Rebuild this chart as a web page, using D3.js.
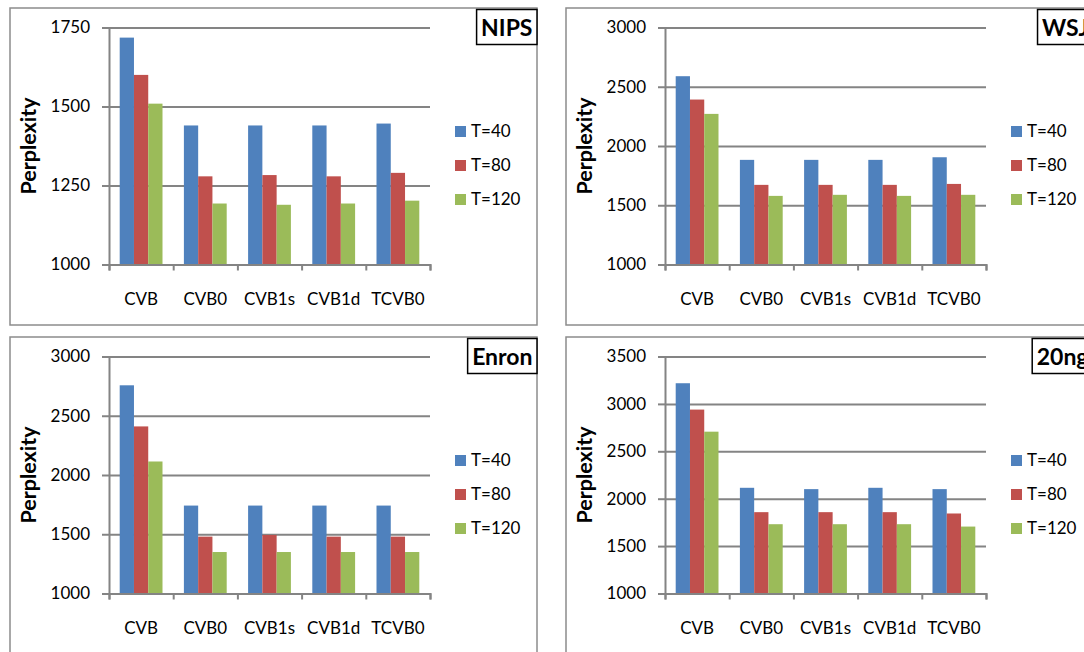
<!DOCTYPE html>
<html>
<head>
<meta charset="utf-8">
<script src="https://cdn.jsdelivr.net/npm/d3@7"></script>
<style>
  html, body { margin: 0; padding: 0; background: #fff; }
  svg { display: block; font-family: Lato, "Open Sans", sans-serif; }
</style>
</head>
<body>
<svg id="chart" width="1084" height="652"></svg>
<script>
// categories and series
var categories = ["CVB", "CVB0", "CVB1s", "CVB1d", "TCVB0"];
var seriesNames = ["T=40", "T=80", "T=120"];
var colors = ["#4F81BD", "#C0504D", "#9BBB59"];

// values
var nipsT40 = [1718, 1440, 1440, 1440, 1446];
var nipsT80 = [1600, 1279, 1283, 1279, 1290];
var nipsT120 = [1509, 1193, 1189, 1193, 1202];

var wsjT40 = [2589, 1883, 1883, 1883, 1905];
var wsjT80 = [2392, 1672, 1672, 1672, 1680];
var wsjT120 = [2271, 1579, 1588, 1579, 1588];

var enronT40 = [2757, 1742, 1742, 1742, 1742];
var enronT80 = [2410, 1480, 1494, 1480, 1480];
var enronT120 = [2114, 1350, 1350, 1350, 1350];

var ngT40 = [3218, 2115, 2101, 2115, 2101];
var ngT80 = [2940, 1858, 1858, 1858, 1844];
var ngT120 = [2707, 1731, 1731, 1731, 1706];

// tick labels
var nipsTicks = [1000, 1250, 1500, 1750];
var wsjTicks = [1000, 1500, 2000, 2500, 3000];
var enronTicks = [1000, 1500, 2000, 2500, 3000];
var ngTicks = [1000, 1500, 2000, 2500, 3000, 3500];

var panels = [
  { title: "NIPS", x: 10, y: 8, ticks: nipsTicks, values: [nipsT40, nipsT80, nipsT120] },
  { title: "WSJ", x: 566, y: 8, ticks: wsjTicks, values: [wsjT40, wsjT80, wsjT120] },
  { title: "Enron", x: 10, y: 337, ticks: enronTicks, values: [enronT40, enronT80, enronT120] },
  { title: "20ng", x: 566, y: 337, ticks: ngTicks, values: [ngT40, ngT80, ngT120] }
];

var panelW = 527, panelH = 317;
var plotLeft = 99, plotTop = 19.5, plotW = 321, plotH = 237;
var gray = "#848484";

var svg = d3.select("#chart");

panels.forEach(function (p) {
  var g = svg.append("g").attr("transform", "translate(" + p.x + "," + p.y + ")");

  // outer frame
  g.append("rect")
    .attr("x", 0).attr("y", 0)
    .attr("width", panelW).attr("height", panelH)
    .attr("fill", "#fff").attr("stroke", "#8c8c8c").attr("stroke-width", 1.5);

  var chart = g.append("g").attr("transform", "translate(" + plotLeft + "," + plotTop + ")");

  var y = d3.scaleLinear()
    .domain([d3.min(p.ticks), d3.max(p.ticks)])
    .range([plotH, 0]);
  var x0 = d3.scaleBand().domain(categories).range([0, plotW]).paddingInner(0).paddingOuter(0);
  var x1 = d3.scaleBand().domain(seriesNames).range([0, x0.bandwidth()]).paddingInner(0).paddingOuter(0.75);
  var xEdge = d3.scaleLinear().domain([0, categories.length]).range([0, plotW]);

  // gridlines
  chart.append("g")
    .attr("class", "grid")
    .call(d3.axisLeft(y).tickValues(p.ticks).tickSize(-plotW).tickFormat(""))
    .call(function (s) {
      s.select(".domain").remove();
      s.selectAll("line").attr("stroke", gray).attr("stroke-width", 2);
    });

  // bars
  var table = [];
  categories.forEach(function (c, ci) {
    seriesNames.forEach(function (s, si) {
      table.push({ cat: c, series: s, si: si, value: p.values[si][ci] });
    });
  });
  chart.selectAll(".bar").data(table).enter().append("rect")
    .attr("class", "bar")
    .attr("x", function (d) { return x0(d.cat) + x1(d.series); })
    .attr("y", function (d) { return y(d.value); })
    .attr("width", x1.bandwidth())
    .attr("height", function (d) { return plotH - y(d.value); })
    .attr("fill", function (d) { return colors[d.si]; });

  // y axis
  chart.append("g")
    .call(d3.axisLeft(y).tickValues(p.ticks).tickSize(7).tickPadding(12).tickFormat(d3.format("d")))
    .call(function (s) {
      s.select(".domain").attr("stroke", gray).attr("stroke-width", 2);
      s.selectAll("line").attr("stroke", gray).attr("stroke-width", 2);
      s.selectAll("text").attr("fill", "#000").style("font-size", "17px").style("font-family", "Lato");
    });

  // x axis: ticks at category edges
  chart.append("g")
    .attr("transform", "translate(0," + plotH + ")")
    .call(d3.axisBottom(xEdge).tickValues(d3.range(categories.length + 1)).tickSize(6).tickFormat(""))
    .call(function (s) {
      s.select(".domain").attr("stroke", gray).attr("stroke-width", 2);
      s.selectAll("line").attr("stroke", gray).attr("stroke-width", 2);
    });
  chart.append("g")
    .attr("transform", "translate(0," + plotH + ")")
    .call(d3.axisBottom(x0).tickSize(0).tickPadding(28))
    .call(function (s) {
      s.select(".domain").remove();
      s.selectAll("text").attr("fill", "#000").style("font-size", "17px").style("font-family", "Lato");
    });

  // axis title
  g.append("text")
    .attr("transform", "translate(" + 18 + "," + (plotTop + plotH / 2) + ") rotate(-90)")
    .attr("text-anchor", "middle")
    .attr("dy", "0.35em")
    .style("font-size", "21.5px").style("font-weight", "bold")
    .text("Perplexity");

  // legend
  var legend = g.append("g").attr("transform", "translate(445," + plotTop + ")");
  var rowY = [104, 138, 172];
  seriesNames.forEach(function (s, i) {
    legend.append("rect")
      .attr("x", 0).attr("y", rowY[i] - 5.5)
      .attr("width", 11).attr("height", 11)
      .attr("fill", colors[i]);
    legend.append("text")
      .attr("x", 16).attr("y", rowY[i])
      .attr("dy", "0.35em")
      .style("font-size", "17px")
      .text(s);
  });

  // title box, pinned to the top right corner of the frame
  var tb = g.append("g");
  var tt = tb.append("text")
    .attr("y", 28)
    .style("font-size", "23px").style("font-weight", "bold")
    .text(p.title);
  var tw = tt.node().getComputedTextLength();
  var boxW = tw + 9;
  tb.insert("rect", "text")
    .attr("x", panelW - boxW).attr("y", 1.5)
    .attr("width", boxW).attr("height", 35)
    .attr("fill", "#fff").attr("stroke", "#000").attr("stroke-width", 1.5);
  tt.attr("x", panelW - boxW + 4.5);
});
</script>
</body>
</html>
